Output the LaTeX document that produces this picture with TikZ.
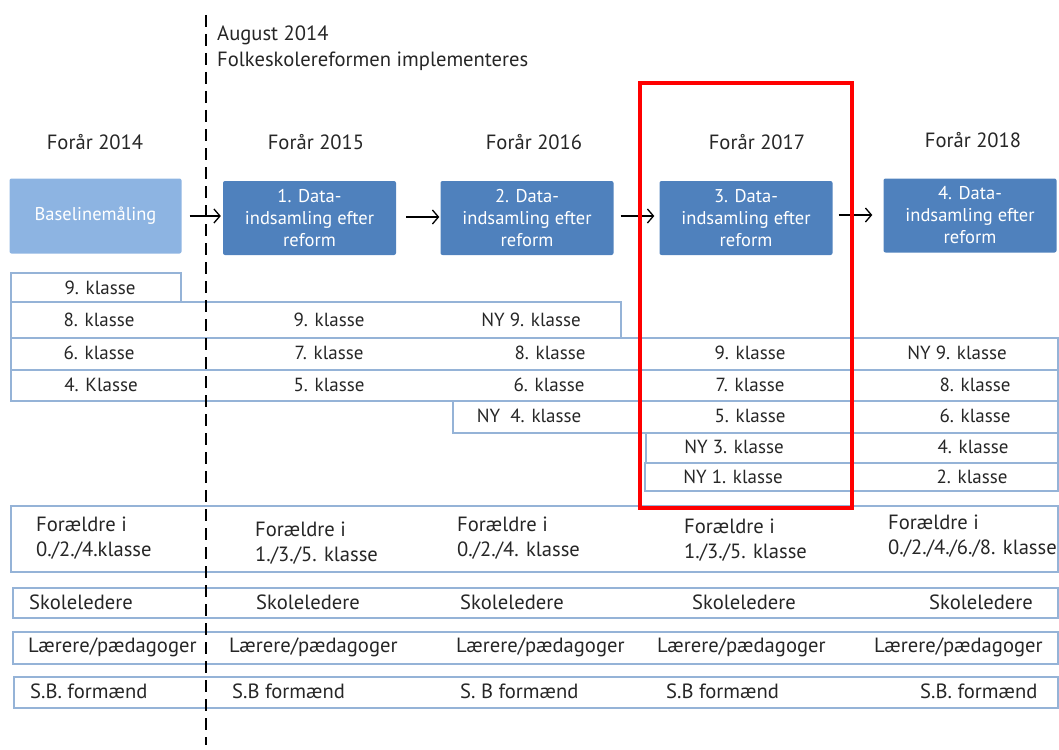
\documentclass[tikz,border=0pt]{standalone}
\usepackage{fontspec}
\setmainfont{PT Sans}
\usetikzlibrary{arrows.meta}
\definecolor{txt}{HTML}{262626}
\definecolor{dblue}{HTML}{4F81BD}
\definecolor{lblue}{HTML}{8DB4E2}
\definecolor{rowc}{HTML}{95B3D7}
\definecolor{redc}{HTML}{FF0000}
\begin{document}
\begin{tikzpicture}[x=1pt,y=-1pt,
  every node/.style={text=txt, inner sep=0pt, font=\fontsize{19}{22}\selectfont},
  bigtxt/.style={font=\fontsize{20.6}{25}\selectfont},
  databox/.style={fill=dblue, rounded corners=2pt, minimum width=173pt, minimum height=74pt,
    text=white, align=center, font=\fontsize{18.5}{22}\selectfont},
  rowbox/.style={draw=rowc, line width=1.5pt, anchor=north west},
  arr/.style={-{Straight Barb[length=6pt,width=14pt]}, line width=1.3pt, black},
  dashline/.style={line width=2.6pt, black, dash pattern=on 12pt off 7pt},
  lefttxt/.style={bigtxt, anchor=west, align=left},
  redframe/.style={draw=redc, line width=4pt, anchor=north west}
]
\useasboundingbox (0,0) rectangle (1059,749);

% headers
\node[bigtxt] (h0) at (95,142) {Forår 2014};
\node[bigtxt] (h1) at (316,142) {Forår 2015};
\node[bigtxt] (h2) at (534,142) {Forår 2016};
\node[bigtxt] (h3) at (757,142) {Forår 2017};
\node[bigtxt] (h4) at (973,140) {Forår 2018};
\node[bigtxt, anchor=west] (aug1) at (217,35) {August 2014};
\node[bigtxt, anchor=west] (aug2) at (217,61) {Folkeskolereformen implementeres};

% data boxes
\node[databox, fill=lblue, minimum width=172pt, minimum height=75pt] (b0) at (95.5,216) {Baselinemåling};
\node[databox] (b1) at (309.5,218) {1. Data-\\indsamling efter\\reform};
\node[databox] (b2) at (527,218) {2. Data-\\indsamling efter\\reform};
\node[databox] (b3) at (746,218) {3. Data-\\indsamling efter\\reform};
\node[databox] (b4) at (970,215.5) {4. Data-\\indsamling efter\\reform};

\draw[arr, shorten <=8pt, shorten >=2pt] (b0.east) -- (b1.west |- b0.east);
\draw[arr, shorten <=10pt, shorten >=1pt] (b1.east |- 0,217) -- (b2.west |- 0,217);
\draw[arr, shorten <=7pt, shorten >=5pt] (b2.east |- 0,216) -- (b3.west |- 0,216);
\draw[arr, shorten <=6pt, shorten >=11pt] (b3.east |- 0,215) -- (b4.west |- 0,215);

% class rows
\node[rowbox, minimum width=170pt, minimum height=29pt] (r1) at (10,272) {};
\node[rowbox, minimum width=610pt, minimum height=36pt] (r2) at (10,301) {};
\node[rowbox, minimum width=1047pt, minimum height=32pt] (r3) at (10,337) {};
\node[rowbox, minimum width=1047pt, minimum height=31pt] (r4) at (10,369) {};
\node[rowbox, minimum width=605pt, minimum height=32pt] (r5) at (452,400) {};
\node[rowbox, minimum width=412pt, minimum height=30pt] (r6) at (645,432) {};
\node[rowbox, minimum width=413pt, minimum height=28pt] (r7) at (644,462) {};

\node (t11) at (100,288) {9. klasse};
\node (t21) at (99,320) {8. klasse};
\node (t22) at (329,320) {9. klasse};
\node (t23) at (531,320) {NY 9. klasse};
\node (t31) at (99,353) {6. klasse};
\node (t32) at (329,353) {7. klasse};
\node (t33) at (550,353) {8. klasse};
\node (t34) at (750,353) {9. klasse};
\node (t35) at (957,353) {NY 9. klasse};
\node (t41) at (101,385) {4. Klasse};
\node (t42) at (329,385) {5. klasse};
\node (t43) at (549,385) {6. klasse};
\node (t44) at (750,385) {7. klasse};
\node (t45) at (975,385) {8. klasse};
\node (t53) at (529,416) {NY~~4. klasse};
\node (t54) at (750,416) {5. klasse};
\node (t55) at (975,416) {6. klasse};
\node (t64) at (734,447) {NY 3. klasse};
\node (t65) at (973,447) {4. klasse};
\node (t74) at (733,477) {NY 1. klasse};
\node (t75) at (972,477) {2. klasse};

% bottom rows
\node[rowbox, minimum width=1047pt, minimum height=66pt] (fb) at (10,505) {};
\node[rowbox, minimum width=1045pt, minimum height=30pt] (sk) at (12,587) {};
\node[rowbox, minimum width=1045pt, minimum height=32pt] (lp) at (12,631) {};
\node[rowbox, minimum width=1044pt, minimum height=31pt] (sb) at (13,676) {};

\node[lefttxt] (f1) at (36,538) {Forældre i\\0./2./4.klasse};
\node[lefttxt] (f2) at (255,543) {Forældre i\\1./3./5. klasse};
\node[lefttxt] (f3) at (457,538) {Forældre i\\0./2./4. klasse};
\node[lefttxt] (f4) at (684,540) {Forældre i\\1./3./5. klasse};
\node[lefttxt] (f5) at (888,536) {Forældre i\\0./2./4./6./8. klasse};

\node[bigtxt, anchor=west] (s1) at (29,602) {Skoleledere};
\node[bigtxt, anchor=west] (s2) at (256,602) {Skoleledere};
\node[bigtxt, anchor=west] (s3) at (460,602) {Skoleledere};
\node[bigtxt, anchor=west] (s4) at (692,602) {Skoleledere};
\node[bigtxt, anchor=west] (s5) at (929,602) {Skoleledere};

\node[bigtxt, anchor=west] (l1) at (28,647) {Lærere/pædagoger};
\node[bigtxt, anchor=west] (l2) at (229,647) {Lærere/pædagoger};
\node[bigtxt, anchor=west] (l3) at (456,647) {Lærere/pædagoger};
\node[bigtxt, anchor=west] (l4) at (657,647) {Lærere/pædagoger};
\node[bigtxt, anchor=west] (l5) at (874,647) {Lærere/pædagoger};

\node[bigtxt, anchor=west] (p1) at (30,691) {S.B. formænd};
\node[bigtxt, anchor=west] (p2) at (232,691) {S.B formænd};
\node[bigtxt, anchor=west] (p3) at (460,691) {S. B formænd};
\node[bigtxt, anchor=west] (p4) at (666,691) {S.B formænd};
\node[bigtxt, anchor=west] (p5) at (920,691) {S.B. formænd};

% dashed reform line
\coordinate (dtop) at (206,15);
\coordinate (dbot) at (206,745);
\draw[dashline] (dtop) -- (dbot);

% red highlight
\node[redframe, minimum width=212pt, minimum height=425pt] (red) at (638,81) {};
\end{tikzpicture}
\end{document}
